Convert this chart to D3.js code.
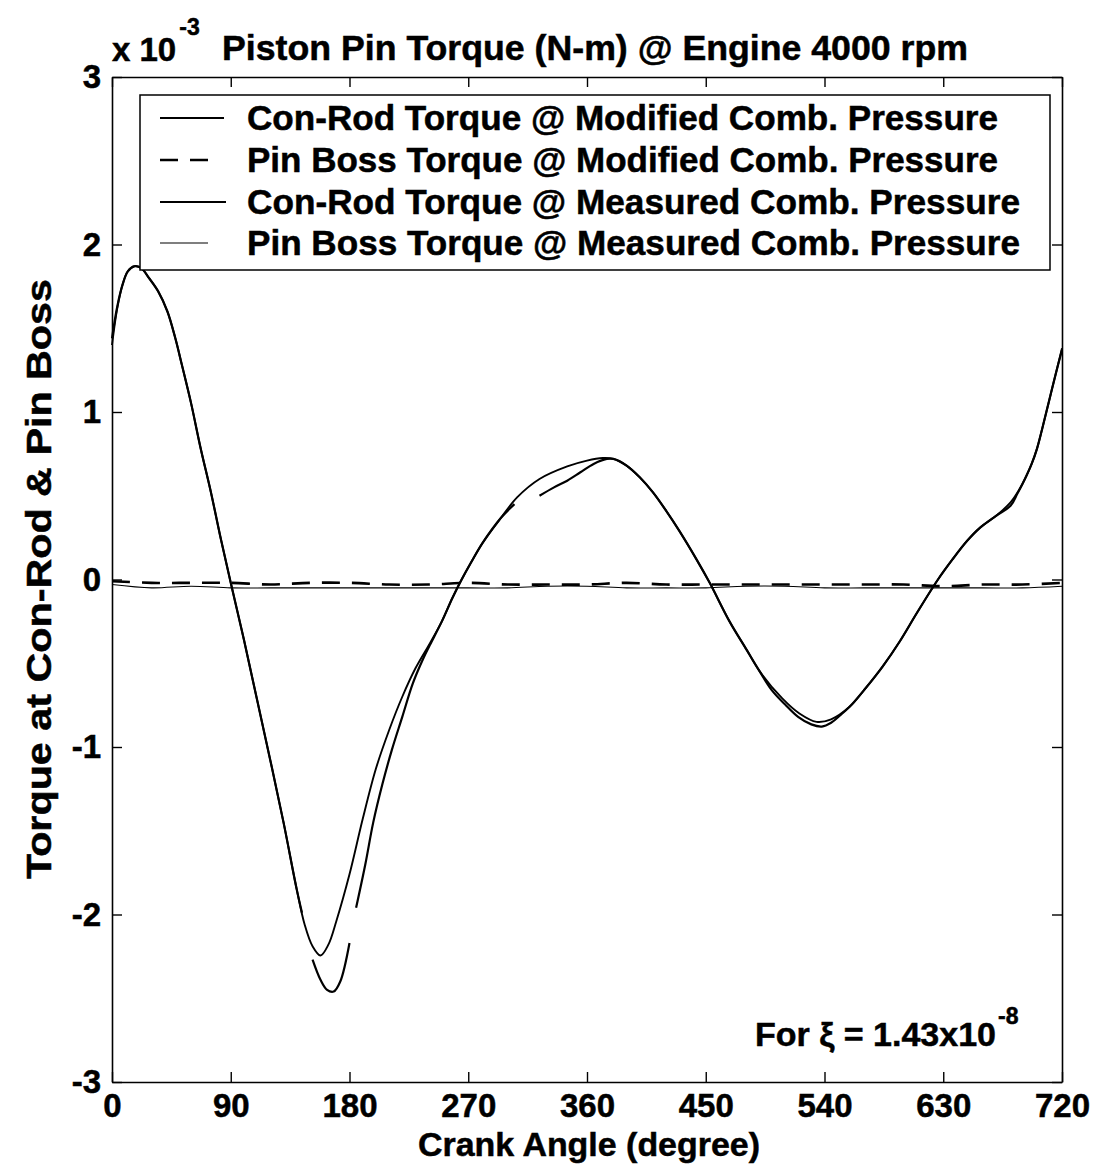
<!DOCTYPE html>
<html>
<head>
<meta charset="utf-8">
<script src="https://cdn.jsdelivr.net/npm/d3@7"></script>
<style>
  body { margin: 0; background: #fff; }
  text { font-family: "Liberation Sans", Arial, sans-serif; font-weight: bold; fill: #000; stroke: #000; stroke-width: 0.5px; }
</style>
</head>
<body>
<svg id="chart" width="1098" height="1170"></svg>
<script>
// Con-rod torque, modified combustion pressure (x 1e-3 N-m) vs crank angle (deg)
const conRodModAngle = [0,4,8,12,17,22,28,35,42,48,53,60,67,75,82,90,100,110,120,130,140,146,152,158,164,170,180,190,200,210,220,230,241,250,258,265,272,281,295,307,324,345,360,372,380,390,400,410,420,430,443,453,468,481,491,508,521,534,545,559,570,584,597,610,626,637,648,658,670,681,690,697,701,705,710,715,720];
const conRodModTorque = [1.40,1.62,1.76,1.84,1.87,1.86,1.80,1.72,1.60,1.44,1.28,1.05,0.79,0.52,0.26,-0.02,-0.36,-0.72,-1.08,-1.45,-1.85,-2.06,-2.19,-2.245,-2.18,-2.04,-1.76,-1.43,-1.13,-0.90,-0.70,-0.53,-0.38,-0.25,-0.11,0.00,0.10,0.22,0.37,0.49,0.60,0.675,0.71,0.725,0.72,0.68,0.61,0.52,0.41,0.29,0.12,-0.02,-0.25,-0.42,-0.55,-0.71,-0.80,-0.85,-0.835,-0.76,-0.66,-0.52,-0.37,-0.20,0.00,0.12,0.23,0.31,0.38,0.46,0.57,0.69,0.78,0.90,1.06,1.22,1.38];

// Con-rod torque, measured combustion pressure (null = break in the trace)
const conRodMeasAngle = [0,4,8,12,17,22,28,35,42,48,53,60,67,75,82,90,100,110,120,130,140,144,148,152,158,163,168,173,180,182,185,192,198,205,212,220,228,236,241,250,258,265,272,281,295,305,315,324,335,345,355,365,375,380,390,400,410,420,430,443,453,468,481,491,500,510,520,530,538,545,552,559,570,584,597,610,626,637,648,658,670,681,686,690,697,701,705,710,715,720];
const conRodMeasTorque = [1.44,1.63,1.76,1.84,1.87,1.86,1.80,1.72,1.60,1.44,1.28,1.05,0.79,0.52,0.26,-0.02,-0.36,-0.72,-1.08,-1.45,-1.85,-1.99,null,-2.27,-2.39,-2.45,-2.46,-2.40,-2.17,null,-1.96,-1.70,-1.45,-1.22,-1.02,-0.82,-0.62,-0.47,-0.39,-0.25,-0.11,0.00,0.10,0.22,0.37,0.45,null,0.50,0.55,0.59,0.64,0.69,0.72,0.72,0.68,0.61,0.52,0.41,0.29,0.12,-0.02,-0.25,-0.42,-0.55,-0.66,-0.745,-0.82,-0.865,-0.878,-0.855,-0.81,-0.76,-0.66,-0.52,-0.37,-0.20,0.00,0.12,0.23,0.31,0.38,0.44,0.51,0.57,0.69,0.78,0.90,1.06,1.22,1.37];

// Pin boss torque, sampled every 30 deg
const pinBossAngle = [0,30,60,90,120,150,180,210,240,270,300,330,360,390,420,450,480,510,540,570,600,630,660,690,720];
const pinBossModTorque = [-0.01,-0.02,-0.02,-0.02,-0.03,-0.02,-0.02,-0.03,-0.03,-0.02,-0.03,-0.03,-0.03,-0.02,-0.03,-0.03,-0.03,-0.03,-0.03,-0.03,-0.03,-0.04,-0.03,-0.03,-0.02];
const pinBossMeasTorque = [-0.03,-0.05,-0.04,-0.05,-0.05,-0.05,-0.05,-0.05,-0.05,-0.05,-0.05,-0.04,-0.04,-0.05,-0.05,-0.05,-0.04,-0.04,-0.05,-0.05,-0.05,-0.05,-0.05,-0.05,-0.04];

const xTicks = [0,90,180,270,360,450,540,630,720];
const yTicks = [-3,-2,-1,0,1,2,3];
const legendLabels = [
  "Con-Rod Torque @ Modified Comb. Pressure",
  "Pin Boss Torque @ Modified Comb. Pressure",
  "Con-Rod Torque @ Measured Comb. Pressure",
  "Pin Boss Torque @ Measured Comb. Pressure"
];

const svg = d3.select("#chart");
const m = { left: 112, right: 1062, top: 77, bottom: 1082 };
const x = d3.scaleLinear().domain([0, 720]).range([m.left, m.right]);
const y = d3.scaleLinear().domain([-3, 3]).range([m.bottom, m.top]);

const styles = [
  { width: 1.9, dash: null, len: 64 },
  { width: 2.6, dash: "18,12", len: 50 },
  { width: 2.2, dash: null, len: 66 },
  { width: 1.1, dash: null, len: 48 }
];

const series = [
  { a: conRodModAngle, v: conRodModTorque, s: styles[0] },
  { a: pinBossAngle, v: pinBossModTorque, s: styles[1] },
  { a: conRodMeasAngle, v: conRodMeasTorque, s: styles[2] },
  { a: pinBossAngle, v: pinBossMeasTorque, s: styles[3] }
];

const line = d3.line()
  .defined(d => d[1] !== null)
  .x(d => x(d[0]))
  .y(d => y(d[1]))
  .curve(d3.curveCatmullRom.alpha(0.5));

const plot = svg.append("g");
series.forEach(sr => {
  const pts = sr.a.map((a, i) => [a, sr.v[i]]);
  plot.append("path")
    .attr("d", line(pts))
    .attr("fill", "none")
    .attr("stroke", "#000")
    .attr("stroke-width", sr.s.width)
    .attr("stroke-dasharray", sr.s.dash)
    .attr("stroke-linejoin", "round");
});

// Axes: frame with inward ticks on all sides
function styleAxis(g) {
  g.select(".domain").attr("stroke", "#000").attr("stroke-width", 1.6);
  g.selectAll(".tick line").attr("stroke", "#000").attr("stroke-width", 1.4);
}
const plain = d => String(d);
svg.append("g").attr("transform", `translate(0,${m.bottom})`)
  .call(d3.axisBottom(x).tickValues(xTicks).tickSizeInner(-10).tickSizeOuter(0).tickPadding(12).tickFormat(plain))
  .call(styleAxis);
svg.append("g").attr("transform", `translate(0,${m.top})`)
  .call(d3.axisTop(x).tickValues(xTicks).tickSizeInner(-10).tickSizeOuter(0).tickFormat(""))
  .call(styleAxis);
svg.append("g").attr("transform", `translate(${m.left},0)`)
  .call(d3.axisLeft(y).tickValues(yTicks).tickSizeInner(-10).tickSizeOuter(0).tickPadding(11).tickFormat(plain))
  .call(styleAxis);
svg.append("g").attr("transform", `translate(${m.right},0)`)
  .call(d3.axisRight(y).tickValues(yTicks).tickSizeInner(-10).tickSizeOuter(0).tickFormat(""))
  .call(styleAxis);
svg.selectAll(".tick text")
  .attr("font-family", null).attr("font-size", 33)
  .attr("fill", "#000").attr("font-weight", "bold");

// Legend
const lg = svg.append("g");
lg.append("rect").attr("x", 140).attr("y", 95).attr("width", 910).attr("height", 175)
  .attr("fill", "#fff").attr("stroke", "#000").attr("stroke-width", 1.5);
const rowY = [118, 160, 202, 243];
const rowLen = [751, 751, 773, 773];
legendLabels.forEach((t, i) => {
  const st = styles[i];
  lg.append("line").attr("x1", 160).attr("x2", 160 + st.len)
    .attr("y1", rowY[i]).attr("y2", rowY[i])
    .attr("stroke", "#000").attr("stroke-width", st.width)
    .attr("stroke-dasharray", st.dash);
  lg.append("text").attr("x", 247).attr("y", rowY[i] + 12)
    .attr("font-size", 35).attr("textLength", rowLen[i]).attr("lengthAdjust", "spacingAndGlyphs")
    .text(t);
});

// Title with exponent
const title = svg.append("text").attr("x", 112).attr("y", 61).attr("font-size", 33);
title.append("tspan").text("x 10");
title.append("tspan").attr("font-size", 23).attr("dy", -26).attr("dx", 3).text("-3");
svg.append("text").attr("x", 222).attr("y", 60).attr("font-size", 35)
  .attr("textLength", 746).attr("lengthAdjust", "spacingAndGlyphs")
  .text("Piston Pin Torque (N-m) @ Engine 4000 rpm");

// Axis titles
svg.append("text").attr("x", 589).attr("y", 1156).attr("text-anchor", "middle")
  .attr("font-size", 34).attr("textLength", 342).attr("lengthAdjust", "spacingAndGlyphs")
  .text("Crank Angle (degree)");
svg.append("text").attr("transform", "translate(51,579) rotate(-90)")
  .attr("text-anchor", "middle").attr("font-size", 35)
  .attr("textLength", 600).attr("lengthAdjust", "spacingAndGlyphs")
  .text("Torque at Con-Rod & Pin Boss");

// Parameter note
const note = svg.append("text").attr("x", 755).attr("y", 1046).attr("font-size", 34);
note.append("tspan").text("For ξ = 1.43x10");
note.append("tspan").attr("font-size", 23).attr("dy", -22).attr("dx", 2).text("-8");
</script>
</body>
</html>
